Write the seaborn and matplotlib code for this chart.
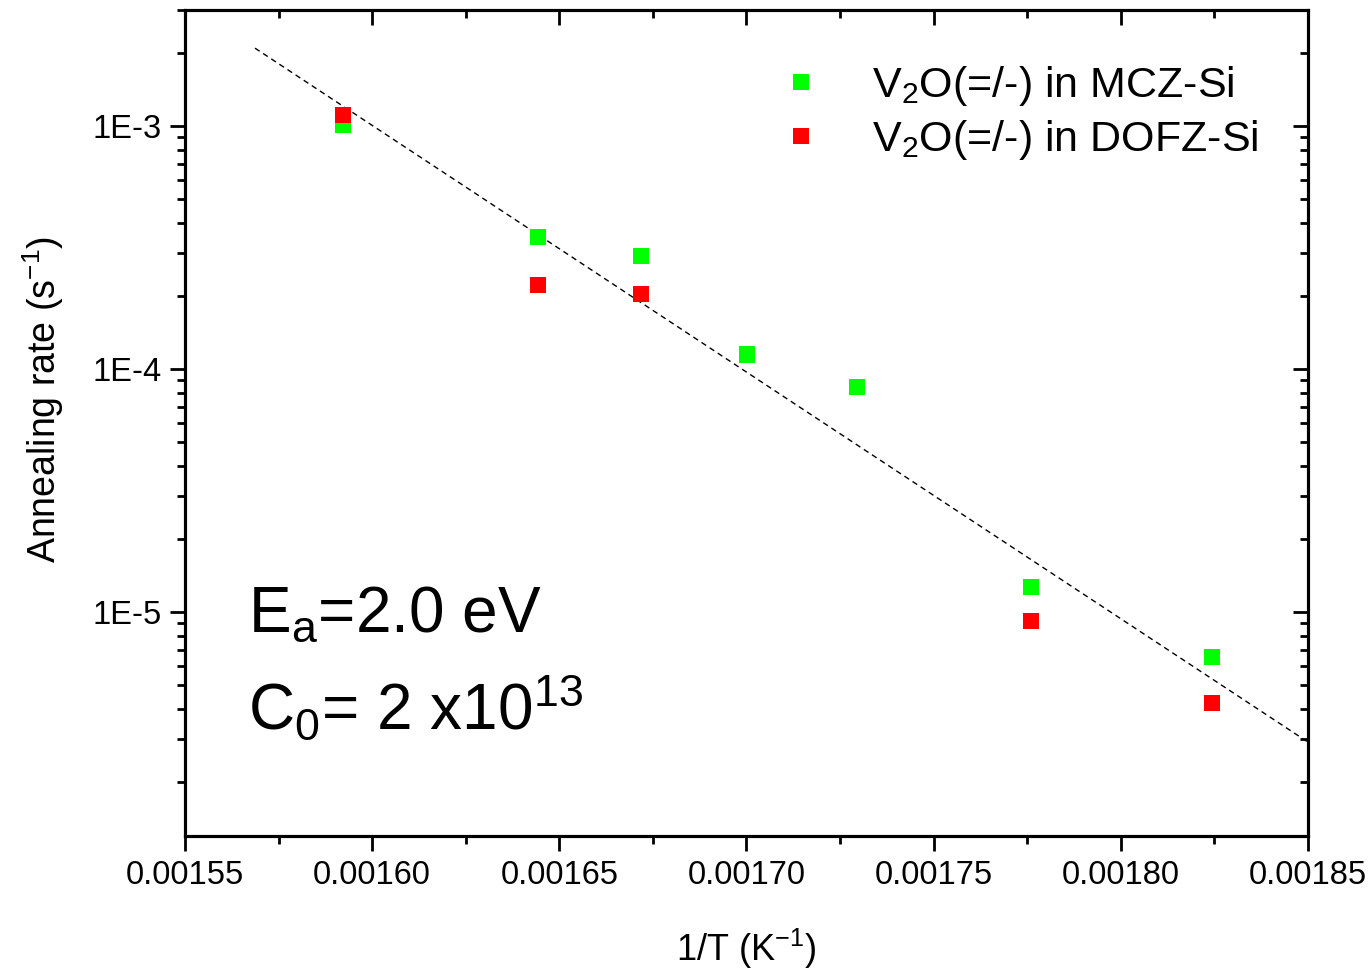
import matplotlib
matplotlib.use("Agg")
import matplotlib.pyplot as plt
import seaborn as sns
import pandas as pd
from matplotlib.ticker import LogLocator, FixedLocator, MultipleLocator, NullFormatter, FuncFormatter

# ---- data ----
mcz_x = [0.0015922, 0.0016443, 0.0016718, 0.0017001, 0.0017295, 0.0017760, 0.0018244]
mcz_y = [1.01e-3, 3.49e-4, 2.92e-4, 1.15e-4, 8.43e-5, 1.27e-5, 6.53e-6]
dofz_x = [0.0015922, 0.0016443, 0.0016718, 0.0017760, 0.0018244]
dofz_y = [1.11e-3, 2.22e-4, 2.04e-4, 9.18e-6, 4.23e-6]
fit_x = [0.0015687, 0.00185]
fit_y = [2.09e-3, 2.92e-6]
series_names = [r"V$_\mathregular{2}$O(=/-) in MCZ-Si", r"V$_\mathregular{2}$O(=/-) in DOFZ-Si"]
xticks = [0.00155, 0.00160, 0.00165, 0.00170, 0.00175, 0.00180, 0.00185]
yticks = [1e-5, 1e-4, 1e-3]
ytick_labels = ["1E-5", "1E-4", "1E-3"]

sns.set_style("ticks")
plt.rcParams['font.family'] = ['Liberation Sans', 'DejaVu Sans']
plt.rcParams['mathtext.fontset'] = 'custom'
plt.rcParams['mathtext.rm'] = 'Liberation Sans'
plt.rcParams['mathtext.it'] = 'Liberation Sans:italic'
plt.rcParams['mathtext.bf'] = 'Liberation Sans:bold'
for k in ['text.color', 'axes.labelcolor', 'xtick.color', 'ytick.color', 'axes.edgecolor']:
    plt.rcParams[k] = 'black'

df = pd.DataFrame({
    "x": mcz_x + dofz_x,
    "y": mcz_y + dofz_y,
    "series": [series_names[0]] * len(mcz_x) + [series_names[1]] * len(dofz_x),
})

fig = plt.figure(figsize=(13.72, 9.72), dpi=100)
ax = fig.add_axes([185/1372, 1-836/972, (1308-185)/1372, (836-10)/972])

ax.plot(fit_x, fit_y, color="black", linestyle=(0, (4, 3)), linewidth=1.0, zorder=1)
sns.scatterplot(data=df, x="x", y="y", hue="series", palette=["#00ff00", "#ff0000"],
                marker="s", s=140, linewidth=0, ax=ax, zorder=3)

ax.set_yscale("log")
ax.set_xlim(0.00155, 0.00185)
ax.set_ylim(1.2e-6, 3.0e-3)

ax.xaxis.set_major_locator(FixedLocator(xticks))
ax.xaxis.set_major_formatter(FuncFormatter(lambda v, p: f"{v:.5f}"))
ax.xaxis.set_minor_locator(MultipleLocator(0.000025))
ax.yaxis.set_major_locator(FixedLocator(yticks))
ax.set_yticklabels(ytick_labels)
ax.yaxis.set_minor_locator(LogLocator(base=10, subs=range(2, 10), numticks=20))
ax.yaxis.set_minor_formatter(NullFormatter())

for sp in ax.spines.values():
    sp.set_linewidth(2.2)
    sp.set_visible(True)

ax.tick_params(which="major", direction="out", length=11, width=2, labelsize=23.5, pad=6)
ax.tick_params(which="minor", direction="out", length=6, width=2)

# mirrored inward ticks on top and right
axr = ax.twinx()
axr.set_yscale("log")
axr.set_ylim(ax.get_ylim())
axr.yaxis.set_major_locator(FixedLocator(yticks))
axr.yaxis.set_minor_locator(LogLocator(base=10, subs=range(2, 10), numticks=20))
axr.yaxis.set_major_formatter(NullFormatter())
axr.yaxis.set_minor_formatter(NullFormatter())
axr.tick_params(which="major", direction="in", length=11, width=2)
axr.tick_params(which="minor", direction="in", length=6, width=2)
axt = ax.twiny()
axt.set_xlim(ax.get_xlim())
axt.xaxis.set_major_locator(FixedLocator(xticks))
axt.xaxis.set_minor_locator(MultipleLocator(0.000025))
axt.xaxis.set_major_formatter(NullFormatter())
axt.tick_params(which="major", direction="in", length=11, width=2)
axt.tick_params(which="minor", direction="in", length=6, width=2)
for a in (axr, axt):
    for sp in a.spines.values():
        sp.set_linewidth(2.2)

ax.set_xlabel(r"1/T (K$^\mathregular{-1}$)", fontsize=26, labelpad=26)
ax.set_ylabel(r"Annealing rate (s$^\mathregular{-1}$)", fontsize=27)
ax.yaxis.set_label_coords(-0.106, 0.529)

ax.legend(loc="upper right", bbox_to_anchor=(0.99, 0.982), frameon=False, fontsize=31,
          handletextpad=0.9, markerscale=1.0, labelspacing=0.25, handlelength=1.5)

ax.text(0.056, 0.268, r"E$_\mathregular{a}$=2.0 eV", transform=ax.transAxes, fontsize=46,
        ha="left", va="center")
ax.text(0.056, 0.155, r"C$_\mathregular{0}$= 2 x10$^\mathregular{13}$", transform=ax.transAxes, fontsize=46,
        ha="left", va="center")

fig.savefig("out.png", dpi=100)
